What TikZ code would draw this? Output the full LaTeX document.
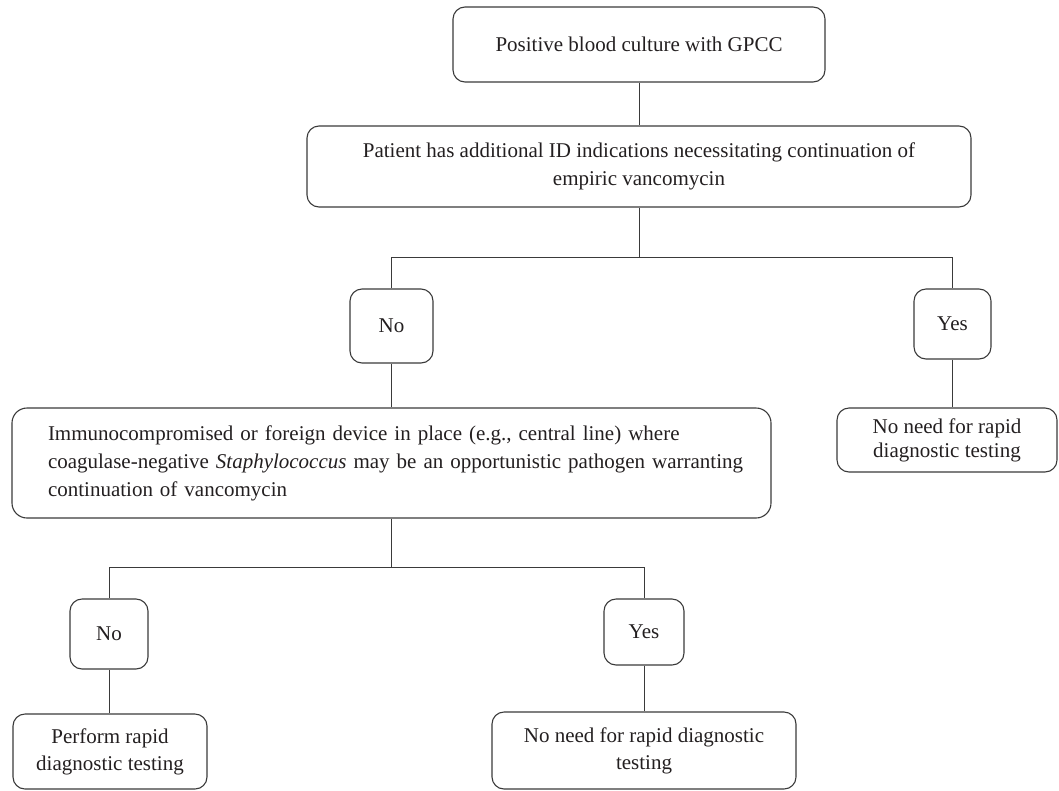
\documentclass[tikz,border=0pt]{standalone}
\usepackage{fontspec}
\setmainfont{Liberation Serif}
\definecolor{linegray}{HTML}{3A3A3A}
\definecolor{txt}{HTML}{231F20}
\begin{document}
\begin{tikzpicture}[x=1pt,y=-1pt,
  box/.style={draw=linegray,line width=1.1pt,rounded corners=12pt,inner sep=0pt,
    align=center,text=txt,font=\fontsize{21}{28}\selectfont},
  conn/.style={draw=linegray,line width=0.9pt}]
\useasboundingbox (0,0) rectangle (1059,790);

\node[box,minimum width=372pt,minimum height=75pt] (start) at (639,44.5)
  {Positive blood culture with GPCC};
\node[box,minimum width=664pt,minimum height=81pt] (q1) at (639,166.5)
  {Patient has additional ID indications necessitating continuation of\\empiric vancomycin};
\node[box,minimum width=83pt,minimum height=74pt] (no1) at (391.5,326) {No};
\node[box,minimum width=77pt,minimum height=70pt] (yes1) at (952.5,324) {Yes};
\node[box,rounded corners=15pt,align=left,text width=687pt,inner xsep=36pt,
  minimum height=110pt] (q2) at (391.5,463)
  {\mbox{Immunocompromised or foreign device in place (e.g., central line) where}\\
   \mbox{coagulase-negative \textit{Staphylococcus} may be an opportunistic pathogen warranting}\\
   \mbox{continuation of vancomycin}};
\node[box,minimum width=220pt,minimum height=64pt,font=\fontsize{21}{24}\selectfont] (res1) at (947,440)
  {No need for rapid\\diagnostic testing};
\node[box,minimum width=78pt,minimum height=70pt] (no2) at (109,634) {No};
\node[box,minimum width=80pt,minimum height=66pt] (yes2) at (644,632) {Yes};
\node[box,minimum width=194pt,minimum height=75pt,font=\fontsize{21}{27}\selectfont] (resL) at (110,751.5)
  {Perform rapid\\diagnostic testing};
\node[box,minimum width=304pt,minimum height=77pt,font=\fontsize{21}{27}\selectfont] (resM) at (644,750.5)
  {No need for rapid diagnostic\\testing};

\coordinate (j1) at (639,257);
\coordinate (j2) at (391.5,567);

\draw[conn] (start.south) -- (q1.north);
\draw[conn] (q1.south) -- (j1);
\draw[conn] (no1.north) -- (no1.north |- j1) -- (yes1.north |- j1) -- (yes1.north);
\draw[conn] (no1.south) -- (q2.north);
\draw[conn] (yes1.south) -- (yes1.south |- res1.north);
\draw[conn] (q2.south) -- (j2);
\draw[conn] (no2.north) -- (no2.north |- j2) -- (yes2.north |- j2) -- (yes2.north);
\draw[conn] (no2.south) -- (no2.south |- resL.north);
\draw[conn] (yes2.south) -- (resM.north);
\end{tikzpicture}
\end{document}
